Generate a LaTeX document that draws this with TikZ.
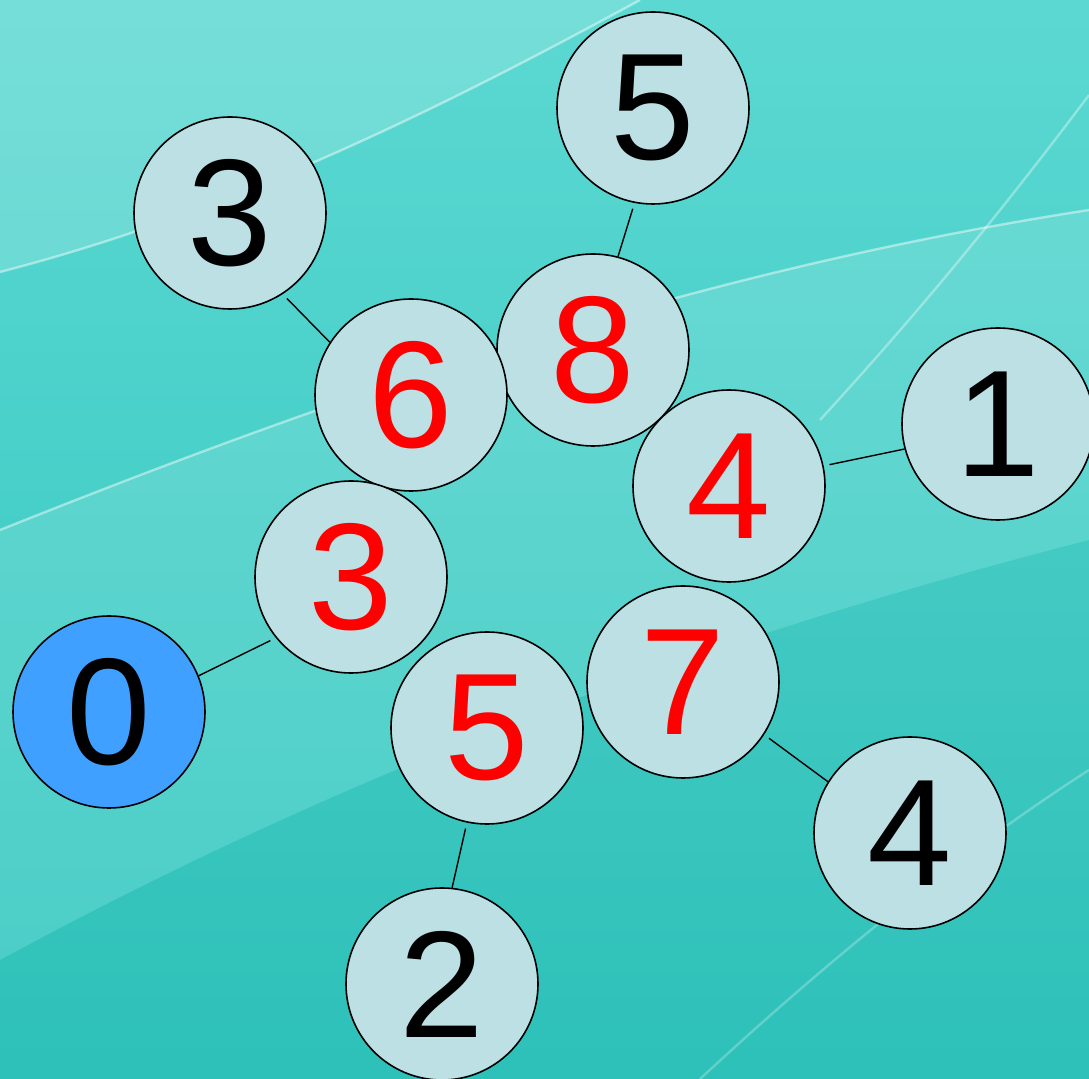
\documentclass[tikz,border=0pt]{standalone}
\usepackage{fontspec}
\setmainfont{Liberation Sans}
\usepackage{xcolor}
\definecolor{bgtop}{HTML}{5CD8D2}
\definecolor{bgbottom}{HTML}{2FC6BE}
\definecolor{vertexfill}{HTML}{BCE0E4}
\definecolor{rootfill}{HTML}{40A0FF}

\begin{document}
\begin{tikzpicture}[x=0.5pt, y=-0.5pt,
    vertex/.style={circle, draw, line width=0.8pt, minimum size=96pt, inner sep=0pt, fill=vertexfill, font=\fontsize{76}{84}\selectfont},
    visited/.style={vertex, text=red},
    link/.style={line width=0.7pt, shorten <=3pt},
    streak/.style={white, opacity=0.45, line width=1.2pt},
]

% background
\useasboundingbox (0,0) rectangle (1089,1079);
\begin{scope}
\clip (0,0) rectangle (1089,1079);
\fill[top color=bgtop, bottom color=bgbottom] (0,0) rectangle (1089,1079);
\fill[white, opacity=0.16] (0,0) -- (640,0) .. controls (420,120) and (220,215) .. (0,272) -- cycle;
\fill[white, opacity=0.12] (0,530) .. controls (350,390) and (700,270) .. (1089,210) -- (1089,540) .. controls (700,640) and (350,770) .. (0,960) -- cycle;
\fill[black, opacity=0.025] (0,960) .. controls (350,770) and (700,640) .. (1089,540) -- (1089,1079) -- (0,1079) -- cycle;
\draw[streak] (0,272) .. controls (220,215) and (420,120) .. (640,0);
\draw[streak] (0,530) .. controls (350,390) and (700,270) .. (1089,210);
\draw[streak, opacity=0.35] (820,420) .. controls (930,300) and (1010,200) .. (1089,95);
\draw[streak, opacity=0.25] (700,1079) .. controls (850,940) and (980,840) .. (1089,770);
\end{scope}

% nodes
\node[vertex] (top5) at (653,108) {5};
\node[vertex] (left3) at (230,213) {3};
\node[visited] (mid8) at (593,350) {8};
\node[visited] (mid6) at (411,395) {6};
\node[vertex] (right1) at (998,424) {1};
\node[visited] (mid4) at (729,486) {4};
\node[visited] (mid3) at (351,577) {3};
\node[vertex, fill=rootfill] (root0) at (109,712) {0};
\node[visited] (mid7) at (683,682) {7};
\node[visited] (mid5) at (487,728) {5};
\node[vertex] (right4) at (910,833) {4};
\node[vertex] (bottom2) at (442,984) {2};

% links
\draw[link] (top5.-101) -- (mid8.75);
\draw[link] (left3.-57) -- (mid6.147);
\draw[link] (mid4.12) -- (right1.-165);
\draw[link] (mid3.-141) -- (root0.22);
\draw[link] (mid5.-102) -- (bottom2.84);
\draw[link] (mid7.-33) -- (right4.148);

\end{tikzpicture}
\end{document}
